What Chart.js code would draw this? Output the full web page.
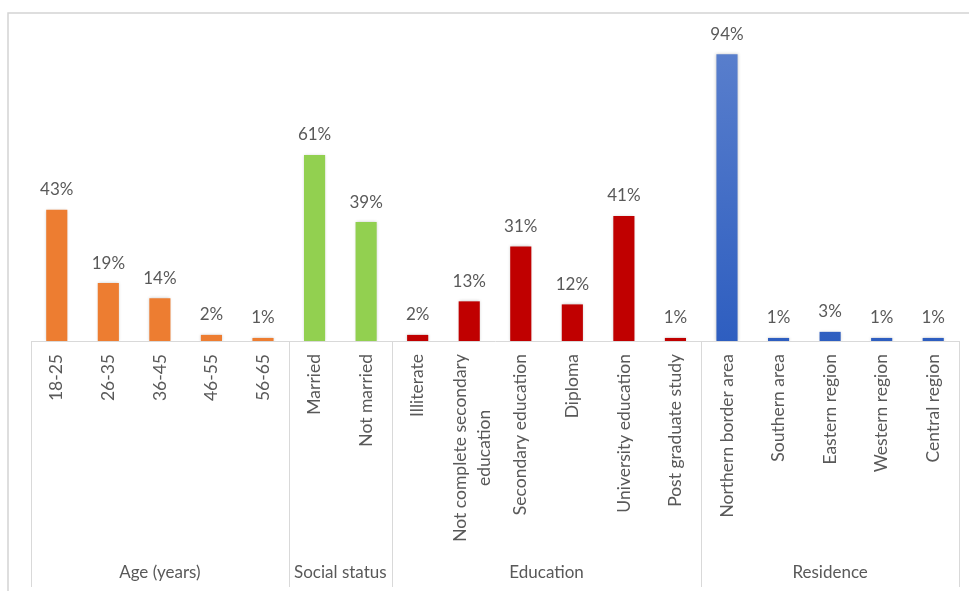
<!DOCTYPE html>
<html>
<head>
<meta charset="utf-8">
<script src="https://cdn.jsdelivr.net/npm/chart.js"></script>
<style>
  html, body { margin: 0; padding: 0; background: #fff; }
</style>
</head>
<body>
<canvas id="myChart" width="969" height="591"></canvas>
<script>
let groups = ["Age (years)", "Social status", "Education", "Residence"];
let groupSizes = [5, 2, 6, 5];
let labelsC = [
    "18-25", "26-35", "36-45", "46-55", "56-65",
    "Married", "Not married",
    "Illiterate", ["Not complete secondary", "education"], "Secondary education", "Diploma", "University education", "Post graduate study",
    "Northern border area", "Southern area", "Eastern region", "Western region", "Central region"
];
let value = [43, 19, 14, 2, 1, 61, 39, 2, 13, 31, 12, 41, 1, 94, 1, 3, 1, 1];
let groupColors = ['#ED7D31', '#92D050', '#C00000', '#4472C4'];

const font = "Lato, 'Open Sans', sans-serif";
const textColor = '#595959';
const lineColor = '#d9d9d9';

// colour of each bar comes from the group it sits in
let barGroup = [];
groupSizes.forEach((n, g) => { for (let k = 0; k < n; k++) barGroup.push(g); });

function barColor(c) {
    const g = barGroup[c.dataIndex];
    if (g !== 3) return groupColors[g];
    const area = c.chart.chartArea;
    if (!area) return groupColors[g];
    const grad = c.chart.ctx.createLinearGradient(0, area.top, 0, area.bottom);
    grad.addColorStop(0, '#5b80cd');
    grad.addColorStop(1, '#2e5ec0');
    return grad;
}

// frame, group separators, rotated category names, group names and value labels
let groupAxis = {
    id: 'groupAxis',
    beforeDraw(chart) {
        const ctx = chart.ctx;
        ctx.save();
        ctx.strokeStyle = '#d4d4d4';
        ctx.lineWidth = 1.5;
        ctx.beginPath();
        ctx.moveTo(8, chart.height);
        ctx.lineTo(8, 13);
        ctx.lineTo(chart.width, 13);
        ctx.stroke();
        ctx.restore();
    },
    beforeDatasetsDraw(chart) {
        chart.ctx.save();
        chart.ctx.shadowColor = 'rgba(0,0,0,0.22)';
        chart.ctx.shadowBlur = 3;
    },
    afterDatasetsDraw(chart) {
        chart.ctx.restore();
    },
    afterDraw(chart) {
        const ctx = chart.ctx, x = chart.scales.x, area = chart.chartArea;
        let edges = [area.left];
        let idx = 0;
        groupSizes.forEach(n => {
            idx += n;
            edges.push(idx < labelsC.length ? (x.getPixelForValue(idx - 1) + x.getPixelForValue(idx)) / 2 : area.right);
        });
        ctx.save();
        ctx.strokeStyle = lineColor;
        ctx.lineWidth = 1;
        edges.forEach(e => {
            ctx.beginPath();
            ctx.moveTo(Math.round(e) + 0.5, area.bottom);
            ctx.lineTo(Math.round(e) + 0.5, chart.height - 4);
            ctx.stroke();
        });

        ctx.fillStyle = textColor;
        ctx.font = '17px ' + font;
        ctx.textAlign = 'center';
        ctx.textBaseline = 'middle';
        groups.forEach((g, i) => ctx.fillText(g, (edges[i] + edges[i + 1]) / 2, 573));

        ctx.font = '17.5px ' + font;
        labelsC.forEach((lab, i) => {
            const lines = Array.isArray(lab) ? lab : [lab];
            const w = Math.max(...lines.map(l => ctx.measureText(l).width));
            ctx.save();
            ctx.translate(x.getPixelForValue(i) + (lines.length > 1 ? 3 : 0), area.bottom + 13);
            ctx.rotate(-Math.PI / 2);
            lines.forEach((l, j) => ctx.fillText(l, -w / 2, (j - (lines.length - 1) / 2) * 24));
            ctx.restore();
        });

        ctx.font = '17px ' + font;
        chart.getDatasetMeta(0).data.forEach((bar, i) => {
            ctx.fillText(value[i] + '%', bar.x, bar.y - 20);
        });
        ctx.restore();
    }
};

let ctx = document.getElementById("myChart").getContext('2d');
let myChart = new Chart(ctx, {
    type: 'bar',
    data: {
        labels: labelsC,
        datasets: [{
            data: value,
            backgroundColor: barColor,
            borderWidth: 0,
            barPercentage: 0.41,
            categoryPercentage: 1
        }]
    },
    options: {
        responsive: false,
        animation: false,
        layout: { padding: { left: 31, right: 10, top: 36, bottom: 0 } },
        plugins: { legend: { display: false }, tooltip: { enabled: false } },
        scales: {
            x: {
                grid: { display: false, drawTicks: false },
                border: { display: true, color: lineColor, width: 1 },
                ticks: { display: false },
                afterFit: (axis) => { axis.height = 250; }
            },
            y: { display: false, min: 0, max: 100 }
        }
    },
    plugins: [groupAxis]
});
</script>
</body>
</html>
